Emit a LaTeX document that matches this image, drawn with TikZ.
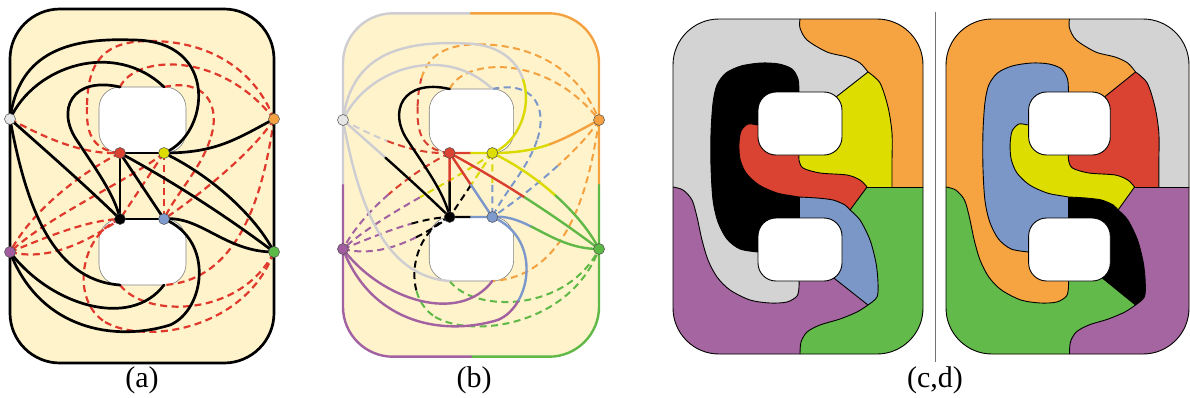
\documentclass[tikz,border=0pt]{standalone}
\usepackage{fontspec}
\setmainfont{Liberation Serif}
\usetikzlibrary{calc}
\definecolor{cream}{HTML}{FFF3CC}
\definecolor{dred}{HTML}{E0392B}
\definecolor{holeline}{HTML}{808080}
\definecolor{cGr}{HTML}{CDCDD2}
\definecolor{cO}{HTML}{F4A140}
\definecolor{cR}{HTML}{DA3E2E}
\definecolor{cY}{HTML}{DADA00}
\definecolor{cK}{HTML}{000000}
\definecolor{cB}{HTML}{7C98CB}
\definecolor{cP}{HTML}{A261A0}
\definecolor{cN}{HTML}{60B847}
\definecolor{nG}{HTML}{E6E6E6}
\definecolor{nO}{HTML}{F5A142}
\definecolor{nR}{HTML}{DA4232}
\definecolor{nY}{HTML}{DDDD00}
\definecolor{nB}{HTML}{7F9BCE}
\definecolor{nP}{HTML}{A05EA0}
\definecolor{nN}{HTML}{5DB946}
\definecolor{rG}{HTML}{D3D3D3}
\definecolor{rO}{HTML}{F6A441}
\definecolor{rY}{HTML}{DDDD00}
\definecolor{rR}{HTML}{DA4231}
\definecolor{rB}{HTML}{7B97C8}
\definecolor{rN}{HTML}{62BA4A}
\definecolor{rP}{HTML}{A565A0}
\tikzset{
  eSol/.style={line width=2.7pt, line cap=round},
  eDash/.style={line width=2.2pt, dash pattern=on 7pt off 4.5pt},
  aSol/.style={draw=black},
  aDash/.style={draw=dred},
  hole/.style={fill=white, draw=holeline, line width=0.6pt, rounded corners=21pt},
  vtx/.style={circle, inner sep=0pt, minimum size=11pt, draw=black!70, line width=0.5pt},
  bnd/.style={line width=0.9pt, draw=black},
  lab/.style={font=\fontsize{30}{34}\selectfont, inner sep=0pt},
  sepline/.style={draw=black!55, line width=0.9pt}
}
\newif\ifcolored
\newcommand{\F}[6]{%
  \ifcolored
    \draw[e#6, draw=#5] (#1) .. controls (#2) and (#3) .. (#4);
  \else
    \draw[e#6, a#6] (#1) .. controls (#2) and (#3) .. (#4);
  \fi}
\newcommand{\E}[8]{%
  \ifcolored
    \coordinate (q0) at ($(#1)!#5!(#2)$);
    \coordinate (q1) at ($(#2)!#5!(#3)$);
    \coordinate (q2) at ($(#3)!#5!(#4)$);
    \coordinate (r0) at ($(q0)!#5!(q1)$);
    \coordinate (r1) at ($(q1)!#5!(q2)$);
    \coordinate (s) at ($(r0)!#5!(r1)$);
    \draw[e#8, draw=#6] (#1) .. controls (q0) and (r0) .. (s);
    \draw[e#8, draw=#7] (s) .. controls (r1) and (q2) .. (#4);
  \else
    \draw[e#8, a#8] (#1) .. controls (#2) and (#3) .. (#4);
  \fi}
\newcommand{\panel}[1]{%
  \fill[cream, rounded corners=50pt] (10,9) rectangle (274,363);
  \filldraw[hole] (99,87) rectangle (186,153);
  \filldraw[hole] (99,219) rectangle (186,285);
  \coordinate (#1G) at (10,119);
  \coordinate (#1O) at (274,119);
  \coordinate (#1R) at (120,153);
  \coordinate (#1Y) at (164,153);
  \coordinate (#1K) at (120,219);
  \coordinate (#1B) at (164,219);
  \coordinate (#1P) at (10,252);
  \coordinate (#1N) at (274,252);
  \coordinate (#1h1l) at (120,87);
  \coordinate (#1h1r) at (164,87);
  \coordinate (#1h2l) at (120,285);
  \coordinate (#1h2r) at (164,285);
  % dashed edges
  \E{#1G}{40,135}{80,155}{#1R}{.45}{cGr}{cR}{Dash}
  \F{#1R}{90,150}{86,130}{87,105}{cR}{Dash}
  \E{87,105}{88,60}{105,41}{150,41}{.25}{cR}{cO}{Dash}
  \F{150,41}{210,41}{255,70}{#1O}{cO}{Dash}
  \F{#1h1l}{135,55}{220,50}{#1O}{cO}{Dash}
  \F{#1h1r}{205,78}{222,105}{210,140}{cB}{Dash}
  \F{210,140}{200,170}{175,195}{#1B}{cB}{Dash}
  \E{#1O}{255,150}{200,195}{#1B}{.45}{cO}{cB}{Dash}
  \F{#1O}{265,180}{245,280}{#1h2r}{cO}{Dash}
  \E{#1Y}{#1Y}{#1B}{#1B}{.5}{cY}{cB}{Dash}
  \E{#1Y}{#1Y}{#1K}{#1K}{.5}{cY}{cK}{Dash}
  \E{#1Y}{130,180}{50,215}{#1P}{.5}{cY}{cP}{Dash}
  \E{#1R}{90,168}{35,205}{#1P}{.55}{cR}{cP}{Dash}
  \E{#1P}{40,240}{85,220}{#1K}{.65}{cP}{cK}{Dash}
  \E{#1P}{50,262}{90,240}{#1K}{.65}{cP}{cK}{Dash}
  \F{#1h2l}{145,318}{240,318}{#1N}{cN}{Dash}
  \E{#1K}{80,235}{70,300}{105,322}{.72}{cK}{cN}{Dash}
  \F{105,322}{145,345}{245,330}{#1N}{cN}{Dash}
  % solid edges
  \E{#1R}{#1R}{#1Y}{#1Y}{.5}{cR}{cY}{Sol}
  \E{#1K}{#1K}{#1B}{#1B}{.5}{cK}{cB}{Sol}
  \E{#1R}{#1R}{#1K}{#1K}{.47}{cR}{cK}{Sol}
  \E{#1R}{#1R}{#1B}{#1B}{.5}{cR}{cB}{Sol}
  \E{#1R}{170,180}{225,215}{#1N}{.5}{cR}{cN}{Sol}
  \E{#1Y}{210,175}{255,215}{#1N}{.5}{cY}{cN}{Sol}
  \E{#1Y}{215,153}{235,140}{#1O}{.5}{cY}{cO}{Sol}
  \E{#1B}{200,215}{225,252}{#1N}{.4}{cB}{cN}{Sol}
  \E{#1G}{45,150}{85,185}{#1K}{.4}{cGr}{cK}{Sol}
  \F{#1G}{18,58}{60,37}{133,40}{cGr}{Sol}
  \E{133,40}{220,40}{210,135}{#1Y}{.42}{cGr}{cY}{Sol}
  \F{#1G}{35,65}{115,40}{#1h1r}{cGr}{Sol}
  \F{#1h1l}{72,76}{55,110}{78,142}{cK}{Sol}
  \F{78,142}{95,168}{115,195}{#1K}{cK}{Sol}
  \F{#1G}{25,200}{50,280}{#1h2l}{cGr}{Sol}
  \F{#1P}{50,305}{130,330}{#1h2r}{cP}{Sol}
  \F{#1P}{40,330}{115,342}{170,325}{cP}{Sol}
  \E{170,325}{205,310}{215,240}{#1B}{.25}{cP}{cB}{Sol}
  % border
  \ifcolored
    \draw[eSol, draw=cGr, rounded corners=50pt] (10,186) |- (142,9);
    \draw[eSol, draw=cO, rounded corners=50pt] (142,9) -| (274,186);
    \draw[eSol, draw=cN, rounded corners=50pt] (274,186) |- (142,363);
    \draw[eSol, draw=cP, rounded corners=50pt] (142,363) -| (10,186);
  \else
    \draw[eSol, draw=black, rounded corners=50pt] (10,9) rectangle (274,363);
  \fi
  % vertices
  \node[vtx, fill=nG] (#1Gv) at (#1G) {};
  \node[vtx, fill=nO] (#1Ov) at (#1O) {};
  \node[vtx, fill=nR] (#1Rv) at (#1R) {};
  \node[vtx, fill=nY] (#1Yv) at (#1Y) {};
  \node[vtx, fill=black] (#1Kv) at (#1K) {};
  \node[vtx, fill=nB] (#1Bv) at (#1B) {};
  \node[vtx, fill=nP] (#1Pv) at (#1P) {};
  \node[vtx, fill=nN] (#1Nv) at (#1N) {};
}
% region map: #1 gray pos, #2 orange pos, #3 yellow pos, #4 red pos,
% #5 black pos, #6 blue pos, #7 green pos, #8 purple pos
\newcommand{\regionmap}[8]{%
  \begin{scope}
  \clip[rounded corners=46pt] (0,0) rectangle (250,335);
  \fill[#1] (-5,-5) rectangle (255,340);
  \fill[#8] (-10,168) -- plot[smooth] coordinates {(0,168) (10,171) (19,181) (24,198) (29,221) (35,241) (44,258) (57,271) (77,281) (97,284) (114,283) (124,277) (126,268) (126,262)} -- (126,250) -- (157,256) -- (195,286) -- plot[smooth] coordinates {(195,286) (184,293) (167,300) (147,306) (134,313) (128,323) (127,335)} -- (127,345) -- (-10,345) -- cycle;
  \fill[#7] (260,168) -- (194,168) -- (177,191) -- plot[smooth] coordinates {(177,191) (187,201) (197,221) (203,244) (205,264) (204,278) (195,286)} -- plot[smooth] coordinates {(195,286) (184,293) (167,300) (147,306) (134,313) (128,323) (127,335)} -- (127,345) -- (260,345) -- cycle;
  \fill[#6] (126,178) -- plot[smooth] coordinates {(126,178) (144,179) (160,181) (172,186) (177,191)} -- plot[smooth] coordinates {(177,191) (187,201) (197,221) (203,244) (205,264) (204,278) (195,286)} -- (157,256) -- (126,230) -- cycle;
  \fill[#5] plot[smooth] coordinates {(126,73) (125,60) (119,50) (106,45) (88,44) (68,47) (53,54) (44,66) (40,84) (38,114) (38,148) (40,181) (45,203) (54,220) (67,230) (85,233)} -- (110,225) -- (126,205) -- (126,80) -- cycle;
  \fill[#4] plot[smooth] coordinates {(84,106) (75,105) (68,112) (66,125) (67,140) (73,154) (86,166) (104,174) (120,177) (126,178)} -- plot[smooth] coordinates {(126,178) (144,179) (160,181) (172,186) (177,191)} -- (194,168) -- (200,140) -- (126,120) -- (100,110) -- cycle;
  \fill[#3] (195,53) -- (163,78) -- (126,110) -- plot[smooth] coordinates {(126,136) (126,141) (130,149) (147,154) (174,156) (187,161) (194,168)} -- (230,168) -- (230,40) -- cycle;
  \fill[#2] (127,-10) -- plot[smooth] coordinates {(127,0) (127,9) (134,21) (154,33) (174,38) (187,44) (195,53)} -- plot[smooth] coordinates {(195,53) (207,64) (215,88) (219,114) (219,140)} -- (219,168) -- (260,168) -- (260,-10) -- cycle;
  \draw[bnd] plot[smooth] coordinates {(127,0) (127,9) (134,21) (154,33) (174,38) (187,44) (195,53)};
  \draw[bnd] plot[smooth] coordinates {(195,53) (207,64) (215,88) (219,114) (219,140)} -- (219,168);
  \draw[bnd] (195,53) -- (163,78);
  \draw[bnd] plot[smooth] coordinates {(126,136) (126,141) (130,149) (147,154) (174,156) (187,161) (194,168)};
  \draw[bnd] (194,168) -- (177,191);
  \draw[bnd] (194,168) -- (256,168);
  \draw[bnd] plot[smooth] coordinates {(84,106) (75,105) (68,112) (66,125) (67,140) (73,154) (86,166) (104,174) (120,177) (126,178)};
  \draw[bnd] plot[smooth] coordinates {(126,178) (144,179) (160,181) (172,186) (177,191)};
  \draw[bnd] plot[smooth] coordinates {(126,73) (125,60) (119,50) (106,45) (88,44) (68,47) (53,54) (44,66) (40,84) (38,114) (38,148) (40,181) (45,203) (54,220) (67,230) (85,233)};
  \draw[bnd] (126,178) -- (126,200);
  \draw[bnd] plot[smooth] coordinates {(177,191) (187,201) (197,221) (203,244) (205,264) (204,278) (195,286)};
  \draw[bnd] (195,286) -- (157,256);
  \draw[bnd] plot[smooth] coordinates {(195,286) (184,293) (167,300) (147,306) (134,313) (128,323) (127,335)};
  \draw[bnd] plot[smooth] coordinates {(0,168) (10,171) (19,181) (24,198) (29,221) (35,241) (44,258) (57,271) (77,281) (97,284) (114,283) (124,277) (126,268) (126,262)};
  \filldraw[fill=white, bnd, rounded corners=18pt] (85,73) rectangle (169,136);
  \filldraw[fill=white, bnd, rounded corners=18pt] (85,199) rectangle (169,262);
  \end{scope}
  \draw[bnd, rounded corners=46pt] (0,0) rectangle (250,335);
}
\begin{document}
\begin{tikzpicture}[x=1pt,y=-1pt]
\useasboundingbox (0,0) rectangle (1190,397);
% panel (a)
\coloredfalse
\panel{a}
% panel (b)
\begin{scope}[shift={(471,185)}, scale=0.97, shift={(-142,-186)}]
  \coloredtrue
  \tikzset{eSol/.style={line width=2.4pt, line cap=round}, eDash/.style={line width=2.0pt, dash pattern=on 7pt off 4.5pt}}
  \panel{b}
\end{scope}
% panels (c) and (d)
\begin{scope}[shift={(673,19)}]
  \regionmap{rG}{rO}{rY}{rR}{black}{rB}{rN}{rP}
\end{scope}
\begin{scope}[shift={(946,19)}, xscale=0.972]
  \regionmap{rO}{rG}{rR}{rY}{rB}{black}{rP}{rN}
\end{scope}
\draw[sepline] (935,12) -- (935,362);
% labels
\node[lab] (labA) at (142,380) {(a)};
\node[lab] (labB) at (474,380) {(b)};
\node[lab] (labCD) at (935,380) {(c,d)};
\end{tikzpicture}
\end{document}
